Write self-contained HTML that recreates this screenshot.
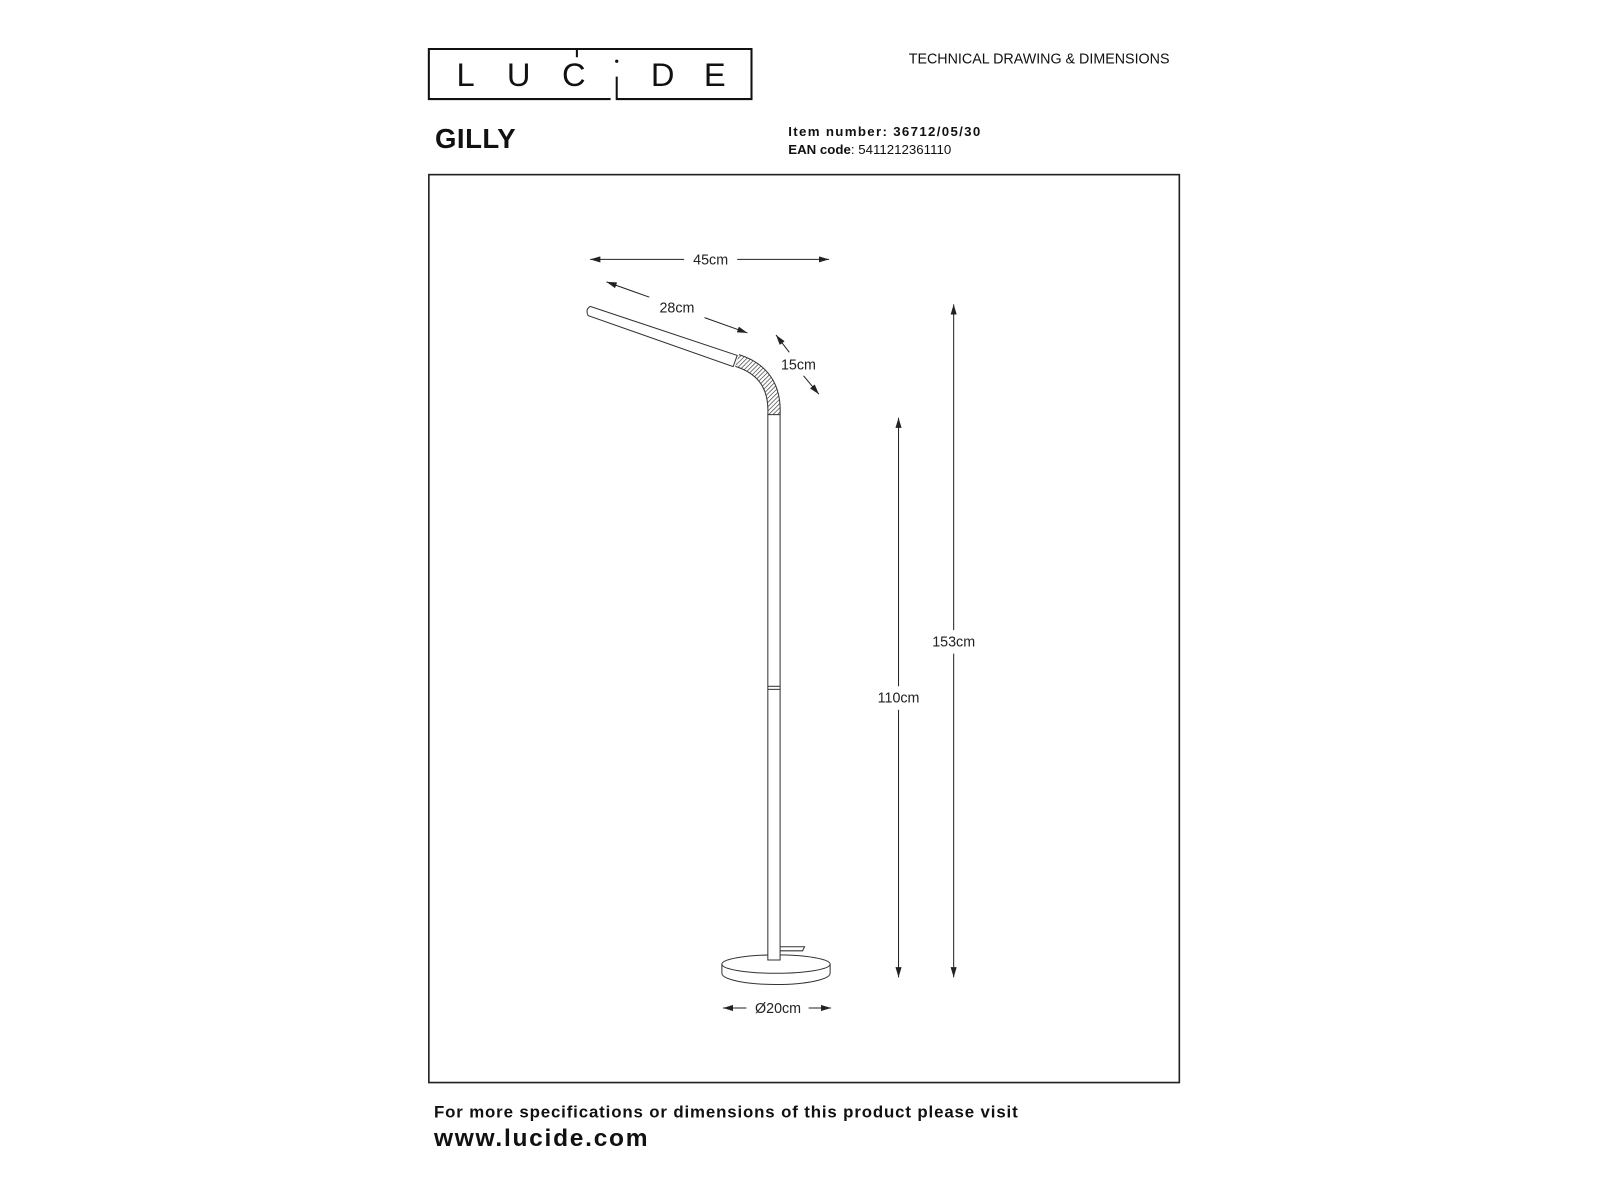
<!DOCTYPE html>
<html><head><meta charset="utf-8"><style>
html,body{margin:0;padding:0;background:#fff;}
svg{display:block;}
text{font-family:"Liberation Sans",sans-serif;}
</style></head><body>
<svg width="1600" height="1200" viewBox="0 0 1567 1175" preserveAspectRatio="none" xmlns="http://www.w3.org/2000/svg">
<defs>
<pattern id="h" width="3" height="3" patternUnits="userSpaceOnUse" patternTransform="rotate(45)">
<rect width="3" height="3" fill="#fff"/><line x1="0" y1="0" x2="0" y2="3" stroke="#444" stroke-width="1.4"/>
</pattern>
<marker id="a" viewBox="0 0 10 6" refX="10" refY="3" markerWidth="10" markerHeight="6" markerUnits="userSpaceOnUse" orient="auto-start-reverse">
<path d="M0,0 L10,3 L0,6 Z" fill="#222"/></marker>
</defs>
<g fill="none" stroke="#111" stroke-width="2">
<path d="M565,56 V48 H420 V97 H598"/>
<path d="M565,48 H736 V97 H604 V75"/>
</g>
<g font-size="32" fill="#111" text-anchor="middle" font-weight="normal">
<text x="456" y="84">L</text><text x="508" y="84">U</text><text x="562" y="84">C</text>
<text x="649" y="84">D</text><text x="700" y="84">E</text>
</g>
<circle cx="604" cy="60" r="1.6" fill="#111"/>
<text x="890" y="62" font-size="14" fill="#111">TECHNICAL DRAWING &amp; DIMENSIONS</text>
<text x="426" y="145" font-size="27" font-weight="bold" fill="#111" letter-spacing="0.5">GILLY</text>
<text x="772" y="133" font-size="13" font-weight="bold" fill="#111" letter-spacing="1.3">Item number: 36712/05/30</text>
<text x="772" y="151" font-size="13" fill="#111"><tspan font-weight="bold">EAN code</tspan>: 5411212361110</text>
<rect x="420" y="171" width="735" height="889" fill="none" stroke="#222" stroke-width="1.6"/>
<g stroke="#222" stroke-width="1" fill="none">
<line x1="578" y1="254" x2="670" y2="254" marker-start="url(#a)"/>
<line x1="722" y1="254" x2="812" y2="254" marker-end="url(#a)"/>
<line x1="594" y1="276" x2="636" y2="291" marker-start="url(#a)"/>
<line x1="690" y1="311" x2="732" y2="326" marker-end="url(#a)"/>
<line x1="760" y1="328" x2="773" y2="345" marker-start="url(#a)"/>
<line x1="787" y1="368" x2="802" y2="386" marker-end="url(#a)"/>
<line x1="934" y1="298" x2="934" y2="617" marker-start="url(#a)"/>
<line x1="934" y1="640" x2="934" y2="957" marker-end="url(#a)"/>
<line x1="880" y1="409" x2="880" y2="672" marker-start="url(#a)"/>
<line x1="880" y1="695" x2="880" y2="957" marker-end="url(#a)"/>
<line x1="708" y1="987" x2="731" y2="987" marker-start="url(#a)"/>
<line x1="792" y1="987" x2="814" y2="987" marker-end="url(#a)"/>
</g>
<g font-size="14" fill="#222" text-anchor="middle">
<text x="696" y="259">45cm</text>
<text x="663" y="306">28cm</text>
<text x="782" y="362">15cm</text>
<text x="934" y="633">153cm</text>
<text x="880" y="688">110cm</text>
<text x="762" y="992">Ø20cm</text>
</g>
<g stroke="#333" stroke-width="1" fill="#fff">
<path d="M578,300 L722,348 L718,359 L576,309 Q573,303 578,300 Z"/>
<path d="M722,353 Q760,365 758,406" fill="none" stroke="#333" stroke-width="13"/>
<path d="M722,353 Q760,365 758,406" fill="none" stroke="url(#h)" stroke-width="11"/>
<line x1="752" y1="672" x2="764" y2="672"/>
<path d="M707,944 V953 A53,11 0 0 0 813,953 V944"/>
<ellipse cx="760" cy="944" rx="53" ry="9"/>
<rect x="752" y="406" width="12" height="534"/>
<line x1="752" y1="672" x2="764" y2="672"/><line x1="752" y1="675" x2="764" y2="675"/>
<path d="M764,927 H788 L786,931 H764" fill="none"/>
</g>
<text x="425" y="1094" font-size="16.5" font-weight="bold" fill="#111" letter-spacing="0.85">For more specifications or dimensions of this product please visit</text>
<text x="425" y="1122" font-size="24" font-weight="bold" fill="#111" letter-spacing="1.7">www.lucide.com</text>
</svg>
</body></html>
